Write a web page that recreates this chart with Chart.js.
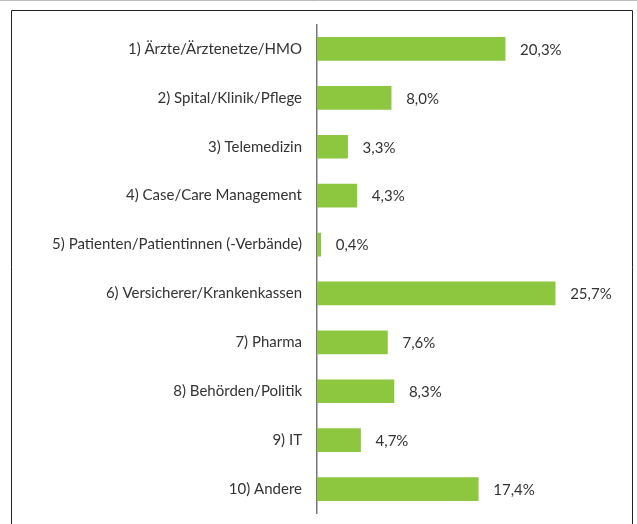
<!DOCTYPE html>
<html>
<head>
<meta charset="utf-8">
<script src="https://cdn.jsdelivr.net/npm/chart.js@4"></script>
<style>
  html, body { margin: 0; padding: 0; background: #fff; }
  #wrap { width: 637px; height: 524px; position: relative; }
  canvas { display: block; }
</style>
</head>
<body>
<div id="wrap"><canvas id="chart" width="637" height="524"></canvas></div>
<script>
const kategorien = [
    '1) Ärzte/Ärztenetze/HMO',
    '2) Spital/Klinik/Pflege',
    '3) Telemedizin',
    '4) Case/Care Management',
    '5) Patienten/Patientinnen (-Verbände)',
    '6) Versicherer/Krankenkassen',
    '7) Pharma',
    '8) Behörden/Politik',
    '9) IT',
    '10) Andere'
];
const anteile = [20.3, 8.0, 3.3, 4.3, 0.4, 25.7, 7.6, 8.3, 4.7, 17.4];

const schrift = 'Lato, "Open Sans", sans-serif';

// Rahmen um die Grafik
const rahmen = {
    id: 'rahmen',
    beforeDraw(chart) {
        const c = chart.ctx;
        c.save();
        c.strokeStyle = '#bdbdbd';
        c.lineWidth = 1;
        c.beginPath();
        c.moveTo(0, 0.5);
        c.lineTo(637, 0.5);
        c.stroke();
        c.strokeStyle = '#222';
        c.beginPath();
        c.moveTo(11.5, 530);
        c.lineTo(11.5, 10.5);
        c.lineTo(632.5, 10.5);
        c.lineTo(632.5, 530);
        c.stroke();
        c.restore();
    }
};

// Werte rechts neben den Balken
const werte = {
    id: 'werte',
    afterDatasetsDraw(chart) {
        const c = chart.ctx;
        const meta = chart.getDatasetMeta(0);
        c.save();
        c.fillStyle = '#333';
        c.font = '15px ' + schrift;
        c.textBaseline = 'middle';
        meta.data.forEach((bar, i) => {
            const txt = anteile[i].toFixed(1).replace('.', ',') + '%';
            c.fillText(txt, bar.x + 15, bar.y + 1);
        });
        c.restore();
    }
};

new Chart(document.getElementById('chart'), {
    type: 'bar',
    data: {
        labels: kategorien,
        datasets: [{
            data: anteile,
            backgroundColor: '#8dc63f',
            barThickness: 23
        }]
    },
    options: {
        indexAxis: 'y',
        responsive: false,
        maintainAspectRatio: false,
        animation: false,
        layout: { padding: { top: 24.5, bottom: 10.5, right: 42, left: 0 } },
        plugins: { legend: { display: false }, tooltip: { enabled: false } },
        scales: {
            x: { display: false, min: 0, max: 30 },
            y: {
                afterFit(scale) {
                    scale.width = 317;
                    scale.paddingTop = 0;
                    scale.paddingBottom = 0;
                },
                grid: { display: false, drawTicks: false },
                border: { display: true, color: '#777', width: 1.5 },
                ticks: { color: '#333', font: { family: schrift, size: 15 }, padding: 15 }
            }
        }
    },
    plugins: [rahmen, werte]
});
</script>
</body>
</html>
